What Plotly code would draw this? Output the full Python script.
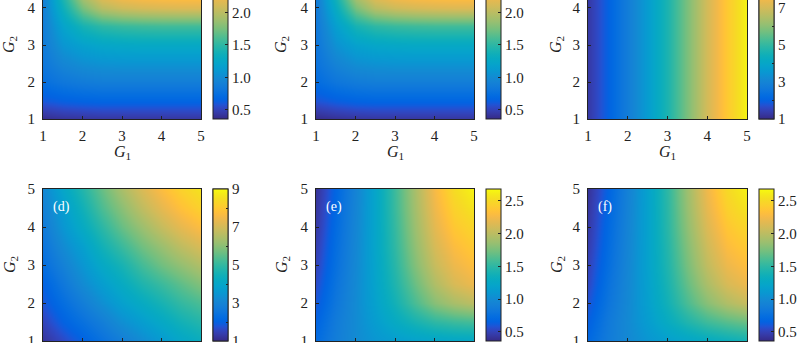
import plotly.graph_objects as go

# ---------------- data ----------------
G = [1.0, 1.5, 2.0, 2.5, 3.0, 3.5, 4.0, 4.5, 5.0]   # grid for G1 (columns) and G2 (rows)

za = [
    [0.38, 0.41, 0.42, 0.43, 0.43, 0.43, 0.43, 0.43, 0.43],
    [0.60, 0.64, 0.66, 0.67, 0.67, 0.67, 0.67, 0.67, 0.67],
    [0.75, 0.82, 0.86, 0.88, 0.88, 0.88, 0.88, 0.88, 0.88],
    [0.82, 0.95, 1.02, 1.05, 1.06, 1.06, 1.06, 1.06, 1.06],
    [0.86, 1.08, 1.18, 1.23, 1.25, 1.26, 1.26, 1.26, 1.26],
    [0.88, 1.20, 1.40, 1.50, 1.54, 1.56, 1.57, 1.57, 1.57],
    [0.90, 1.35, 1.75, 1.98, 2.07, 2.11, 2.13, 2.14, 2.14],
    [0.92, 1.50, 2.05, 2.30, 2.40, 2.44, 2.46, 2.47, 2.47],
    [0.94, 1.65, 2.30, 2.55, 2.62, 2.65, 2.66, 2.67, 2.68],
]
zb = [
    [0.37, 0.40, 0.42, 0.43, 0.43, 0.43, 0.43, 0.43, 0.43],
    [0.58, 0.63, 0.66, 0.67, 0.67, 0.67, 0.67, 0.67, 0.67],
    [0.72, 0.81, 0.86, 0.88, 0.88, 0.88, 0.88, 0.88, 0.88],
    [0.78, 0.93, 1.02, 1.05, 1.06, 1.06, 1.06, 1.06, 1.06],
    [0.81, 1.05, 1.18, 1.23, 1.25, 1.26, 1.26, 1.26, 1.26],
    [0.83, 1.16, 1.40, 1.50, 1.54, 1.56, 1.57, 1.57, 1.57],
    [0.85, 1.30, 1.75, 1.98, 2.07, 2.11, 2.13, 2.14, 2.14],
    [0.87, 1.45, 2.05, 2.30, 2.40, 2.44, 2.46, 2.47, 2.47],
    [0.89, 1.60, 2.30, 2.55, 2.62, 2.65, 2.66, 2.67, 2.68],
]
zc_row = [1.3, 2.0, 2.8, 3.7, 4.7, 5.8, 7.0, 8.0, 8.9]   # depends on G1 only
zc = [list(zc_row) for _ in G]
zd = [
    [1.2, 1.6, 2.0, 2.4, 2.8, 3.2, 3.6, 4.0, 4.3],
    [1.5, 2.0, 2.4, 2.8, 3.3, 3.7, 4.1, 4.5, 4.8],
    [1.8, 2.3, 2.8, 3.3, 3.8, 4.2, 4.6, 5.0, 5.3],
    [2.0, 2.6, 3.2, 3.7, 4.2, 4.7, 5.1, 5.5, 5.9],
    [2.3, 2.9, 3.5, 4.1, 4.6, 5.2, 5.7, 6.1, 6.5],
    [2.5, 3.2, 3.8, 4.5, 5.1, 5.7, 6.2, 6.7, 7.1],
    [2.7, 3.5, 4.2, 4.9, 5.6, 6.2, 6.8, 7.3, 7.7],
    [2.9, 3.7, 4.5, 5.3, 6.0, 6.7, 7.3, 7.8, 8.2],
    [3.1, 4.0, 4.8, 5.6, 6.4, 7.1, 7.7, 8.2, 8.6],
]
ze = [
    [0.72, 0.88, 1.00, 1.08, 1.14, 1.18, 1.21, 1.23, 1.24],
    [0.66, 0.86, 1.00, 1.14, 1.28, 1.40, 1.50, 1.55, 1.58],
    [0.60, 0.82, 1.00, 1.18, 1.38, 1.60, 1.80, 1.92, 2.00],
    [0.55, 0.79, 0.99, 1.20, 1.44, 1.70, 1.95, 2.12, 2.22],
    [0.51, 0.76, 0.98, 1.21, 1.48, 1.78, 2.05, 2.22, 2.32],
    [0.48, 0.74, 0.97, 1.22, 1.51, 1.83, 2.12, 2.30, 2.40],
    [0.45, 0.72, 0.96, 1.22, 1.53, 1.87, 2.18, 2.38, 2.48],
    [0.43, 0.70, 0.95, 1.22, 1.55, 1.90, 2.23, 2.45, 2.57],
    [0.41, 0.68, 0.94, 1.22, 1.56, 1.92, 2.27, 2.52, 2.65],
]
zf = [
    [0.70, 0.86, 0.98, 1.08, 1.16, 1.22, 1.28, 1.33, 1.38],
    [0.64, 0.84, 0.99, 1.14, 1.30, 1.44, 1.56, 1.64, 1.70],
    [0.58, 0.80, 0.98, 1.17, 1.38, 1.60, 1.80, 1.95, 2.05],
    [0.53, 0.77, 0.97, 1.18, 1.42, 1.68, 1.93, 2.12, 2.22],
    [0.50, 0.74, 0.96, 1.19, 1.45, 1.74, 2.02, 2.22, 2.32],
    [0.47, 0.72, 0.95, 1.19, 1.47, 1.78, 2.08, 2.30, 2.40],
    [0.45, 0.70, 0.94, 1.19, 1.49, 1.82, 2.14, 2.37, 2.48],
    [0.43, 0.68, 0.93, 1.19, 1.50, 1.85, 2.19, 2.44, 2.57],
    [0.41, 0.66, 0.92, 1.19, 1.51, 1.87, 2.23, 2.50, 2.64],
]

axis_ticks = [1, 2, 3, 4, 5]
cb_small_vals = [0.5, 1.0, 1.5, 2.0, 2.5]
cb_small_text = ["0.5", "1.0", "1.5", "2.0", "2.5"]
cb_big_vals = [1, 3, 5, 7, 9]
cb_big_text = ["1", "3", "5", "7", "9"]
cb_big_minor = [2, 4, 6, 8]
small_range = (0.36, 2.68)
big_range = (1.0, 9.0)
panel_labels = ["(a)", "(b)", "(c)", "(d)", "(e)", "(f)"]

# ---------------- parula colormap ----------------
parula = [[0.2081, 0.1663, 0.5292], [0.2116, 0.1898, 0.5777], [0.2123, 0.2138, 0.6270], [0.2081, 0.2386, 0.6771],
 [0.1959, 0.2645, 0.7279], [0.1707, 0.2919, 0.7792], [0.1253, 0.3242, 0.8303], [0.0591, 0.3598, 0.8683],
 [0.0117, 0.3875, 0.8820], [0.0060, 0.4086, 0.8828], [0.0165, 0.4266, 0.8786], [0.0329, 0.4430, 0.8720],
 [0.0498, 0.4586, 0.8641], [0.0629, 0.4737, 0.8554], [0.0723, 0.4887, 0.8467], [0.0779, 0.5040, 0.8384],
 [0.0793, 0.5200, 0.8312], [0.0749, 0.5375, 0.8263], [0.0641, 0.5570, 0.8240], [0.0488, 0.5772, 0.8228],
 [0.0343, 0.5966, 0.8199], [0.0265, 0.6137, 0.8135], [0.0239, 0.6287, 0.8038], [0.0231, 0.6418, 0.7913],
 [0.0228, 0.6535, 0.7768], [0.0267, 0.6642, 0.7607], [0.0384, 0.6743, 0.7436], [0.0590, 0.6838, 0.7254],
 [0.0843, 0.6928, 0.7062], [0.1133, 0.7015, 0.6859], [0.1453, 0.7098, 0.6646], [0.1801, 0.7177, 0.6424],
 [0.2178, 0.7250, 0.6193], [0.2586, 0.7317, 0.5954], [0.3022, 0.7376, 0.5712], [0.3482, 0.7424, 0.5473],
 [0.3953, 0.7459, 0.5244], [0.4420, 0.7481, 0.5033], [0.4871, 0.7491, 0.4840], [0.5300, 0.7491, 0.4661],
 [0.5709, 0.7485, 0.4494], [0.6099, 0.7473, 0.4337], [0.6473, 0.7456, 0.4188], [0.6834, 0.7435, 0.4044],
 [0.7184, 0.7411, 0.3905], [0.7525, 0.7384, 0.3768], [0.7858, 0.7356, 0.3633], [0.8185, 0.7327, 0.3498],
 [0.8507, 0.7299, 0.3360], [0.8824, 0.7274, 0.3217], [0.9139, 0.7258, 0.3063], [0.9450, 0.7261, 0.2886],
 [0.9739, 0.7314, 0.2666], [0.9938, 0.7455, 0.2403], [0.9990, 0.7653, 0.2164], [0.9955, 0.7861, 0.1967],
 [0.9880, 0.8066, 0.1794], [0.9789, 0.8271, 0.1633], [0.9697, 0.8481, 0.1475], [0.9626, 0.8705, 0.1309],
 [0.9589, 0.8949, 0.1132], [0.9598, 0.9218, 0.0948], [0.9661, 0.9514, 0.0755], [0.9763, 0.9831, 0.0538]]
n = len(parula)
colorscale = [[i / (n - 1), "rgb(%d,%d,%d)" % tuple(round(c * 255) for c in col)] for i, col in enumerate(parula)]

# ---------------- layout geometry (pixels) ----------------
W, H = 800, 343
FONT = "Liberation Serif"
INK = "#222"
def px_x(x): return x / W
def px_y(y): return 1 - y / H

col_plot = [(43, 201), (316, 474), (588, 747)]
col_cb = [213, 486, 759]
ytitle_x = [10, 282, 557]
rows = [  # (plot top px, plot bottom px, y range)
    (0, 119, [1, 4.216]),
    (189, 341, [1, 5]),
]

fig = go.Figure()
zs = [za, zb, zc, zd, ze, zf]
ranges = [small_range, small_range, big_range, big_range, small_range, small_range]


def make_colorbar(c, r, big, zmin, zmax, minor=False):
    top, bot, _ = rows[r]
    if r == 0:
        cb_len = (37.0 * 4) if big else (65.0 * (zmax - zmin))
    else:
        cb_len = bot - top
    if minor:
        tv, tt, show = cb_big_minor, None, False
    else:
        tv = cb_big_vals if big else cb_small_vals
        tt = cb_big_text if big else cb_small_text
        show = True
    d = dict(
        x=px_x(col_cb[c]), xanchor="left", xpad=0, ypad=0,
        y=px_y(bot), yanchor="bottom", lenmode="pixels", len=cb_len,
        thickness=15, thicknessmode="pixels",
        outlinewidth=1, outlinecolor=INK,
        tickmode="array", tickvals=tv, showticklabels=show,
        ticks="inside", ticklen=3 if not minor else 2, tickcolor=INK,
        tickfont=dict(family=FONT, size=15, color=INK),
        ticklabeloverflow="allow",
    )
    if tt is not None:
        d["ticktext"] = tt
    return d


for k in range(6):
    r, c = divmod(k, 3)
    top, bot, yr = rows[r]
    xs = "" if k == 0 else str(k + 1)
    zmin, zmax = ranges[k]
    big = ranges[k] == big_range
    fig.add_trace(go.Heatmap(
        x=G, y=G, z=zs[k], zmin=zmin, zmax=zmax, zsmooth="best",
        colorscale=colorscale, xaxis="x" + xs, yaxis="y" + xs,
        colorbar=make_colorbar(c, r, big, zmin, zmax), showscale=True,
        hoverinfo="skip",
    ))
    if big:
        # identical layer whose colour bar carries the unlabelled minor ticks
        fig.add_trace(go.Heatmap(
            x=G, y=G, z=zs[k], zmin=zmin, zmax=zmax, zsmooth="best",
            colorscale=colorscale, xaxis="x" + xs, yaxis="y" + xs,
            colorbar=make_colorbar(c, r, big, zmin, zmax, minor=True), showscale=True,
            hoverinfo="skip",
        ))
    ax = dict(
        domain=[px_x(col_plot[c][0]), px_x(col_plot[c][1])],
        range=[1, 5], tickvals=axis_ticks, ticks="inside", ticklen=3,
        tickcolor=INK, showline=True, linecolor=INK, linewidth=1, mirror=True,
        showgrid=False, zeroline=False, anchor="y" + xs,
        tickfont=dict(family=FONT, size=15, color=INK),
        showticklabels=(r == 0), ticklabelstandoff=3, ticklabeloverflow="allow",
    )
    ay = dict(
        domain=[px_y(bot), px_y(top)], range=yr, tickvals=axis_ticks, ticks="inside",
        ticklen=3, tickcolor=INK, showline=True, linecolor=INK, linewidth=1,
        mirror=True, showgrid=False, zeroline=False, anchor="x" + xs,
        tickfont=dict(family=FONT, size=15, color=INK), ticklabelstandoff=4,
        ticklabeloverflow="allow",
    )
    fig.layout["xaxis" + xs] = ax
    fig.layout["yaxis" + xs] = ay

annotations = []
for k in range(6):
    r, c = divmod(k, 3)
    top, bot, yr = rows[r]
    # G2 title (centred on the full 1..5 axis)
    ycenter = bot - (bot - top) * (3 - yr[0]) / (yr[1] - yr[0])
    annotations.append(dict(
        text="<i>G</i><sub>2</sub>", x=px_x(ytitle_x[c]), y=px_y(ycenter),
        xref="paper", yref="paper", showarrow=False, textangle=-90,
        font=dict(family=FONT, size=16, color=INK), xanchor="center", yanchor="middle"))
    if r == 0:
        annotations.append(dict(
            text="<i>G</i><sub>1</sub>", x=px_x((col_plot[c][0] + col_plot[c][1]) / 2),
            y=px_y(153), xref="paper", yref="paper", showarrow=False,
            font=dict(family=FONT, size=16, color=INK), xanchor="center", yanchor="middle"))
    else:
        annotations.append(dict(
            text=panel_labels[k], x=px_x(col_plot[c][0] + 8), y=px_y(top + 18),
            xref="paper", yref="paper", showarrow=False, xanchor="left", yanchor="middle",
            font=dict(family=FONT, size=14, color="white")))

fig.update_layout(
    width=W, height=H, margin=dict(l=0, r=0, t=0, b=0, autoexpand=False),
    paper_bgcolor="white", plot_bgcolor="white",
    annotations=annotations, showlegend=False,
)
fig.write_html("out.html")
